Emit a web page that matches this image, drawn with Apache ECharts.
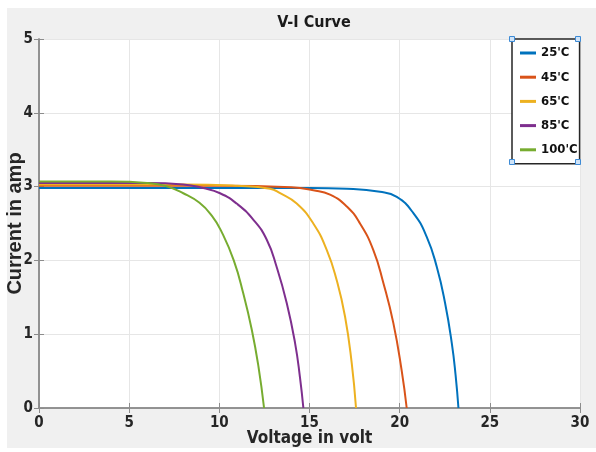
<!DOCTYPE html>
<html>
<head>
<meta charset="utf-8">
<script src="https://cdn.jsdelivr.net/npm/echarts@6/dist/echarts.min.js"></script>
<style>
  body { margin: 0; background: #fff; }
  #bg { position: absolute; left: 7px; top: 8px; width: 589px; height: 440px; background: #f0f0f0; }
  #main { position: absolute; left: 0; top: 0; width: 596px; height: 452px; }
</style>
</head>
<body>
<div id="bg"></div>
<div id="main"></div>
<script>
// V-I curves: volt on x, amp on y
const names = ["25'C", "45'C", "65'C", "85'C", "100'C"]
const colors = ['#0072BD', '#D95319', '#EDB120', '#7E2F8E', '#77AC30']

const volt25 = [0, 15, 17.07, 18.91, 19.84, 20.76, 21.5, 22.06, 22.52, 22.89, 23.1, 23.26]
const amp25 = [2.98, 2.98, 2.97, 2.93, 2.86, 2.64, 2.32, 1.91, 1.42, 0.88, 0.45, 0]

const volt45 = [0, 10, 14, 15.21, 16.14, 17.07, 17.8, 18.54, 19.1, 19.65, 20.11, 20.39]
const amp45 = [3.01, 3.01, 2.99, 2.95, 2.89, 2.73, 2.5, 2.14, 1.69, 1.15, 0.51, 0]

const volt65 = [0, 8, 11, 12.81, 13.37, 14.29, 15.21, 15.96, 16.51, 16.97, 17.34, 17.58]
const amp65 = [3.03, 3.03, 3.01, 2.97, 2.91, 2.77, 2.5, 2.14, 1.73, 1.24, 0.61, 0]

const volt85 = [0, 6, 8, 9.11, 10.04, 10.96, 11.89, 12.63, 13.18, 13.74, 14.2, 14.47, 14.66]
const amp85 = [3.05, 3.05, 3.03, 2.98, 2.91, 2.77, 2.55, 2.28, 1.91, 1.42, 0.88, 0.42, 0]

const volt100 = [0, 4, 6, 7, 8, 8.9, 9.6, 10.1, 10.8, 11.33, 11.8, 12.17, 12.48]
const amp100 = [3.07, 3.07, 3.05, 3.01, 2.91, 2.78, 2.6, 2.4, 2.0, 1.55, 1.06, 0.56, 0]

const volts = [volt25, volt45, volt65, volt85, volt100]
const amps = [amp25, amp45, amp65, amp85, amp100]

const narrow = '"Liberation Sans Narrow", "DejaVu Sans Condensed", sans-serif'

const chart = echarts.init(document.getElementById('main'))

const series = names.map((n, i) => ({
  name: n,
  type: 'line',
  data: volts[i].map((v, k) => [v, amps[i][k]]),
  smooth: true,
  symbol: 'none',
  lineStyle: { color: colors[i], width: 2 },
  itemStyle: { color: colors[i] },
  animation: false
}))

const handle = (x, y) => ({
  type: 'rect',
  shape: { x: x - 2.5, y: y - 2.5, width: 5, height: 5 },
  style: { fill: '#cfe3f7', stroke: '#3d8bd6', lineWidth: 1 },
  z: 100
})

chart.setOption({
  backgroundColor: 'transparent',
  title: {
    text: 'V-I Curve',
    left: 309,
    top: 10,
    textAlign: 'center',
    textStyle: { fontFamily: narrow, fontWeight: 'bold', fontSize: 16, color: '#1a1a1a' }
  },
  grid: {
    left: 39, right: 16, top: 39, bottom: 44,
    outerBoundsMode: 'none',
    containLabel: false,
    show: true, backgroundColor: '#fff', borderWidth: 0
  },
  legend: {
    orient: 'vertical',
    left: 512,
    top: 39,
    padding: [6, 2, 6, 8],
    itemGap: 8.2,
    itemWidth: 16,
    itemHeight: 3,
    icon: 'rect',
    backgroundColor: '#fff',
    borderColor: '#262626',
    borderWidth: 1.5,
    borderRadius: 0,
    textStyle: { fontFamily: narrow, fontWeight: 'bold', fontSize: 13, lineHeight: 16, color: '#111' },
    data: names
  },
  xAxis: [{
    type: 'value',
    min: 0, max: 30, interval: 5,
    name: 'Voltage in volt',
    nameLocation: 'middle',
    nameGap: 22,
    nameMoveOverlap: false,
    nameTextStyle: { fontFamily: narrow, fontWeight: 'bold', fontSize: 17, color: '#262626' },
    axisLine: { show: true, lineStyle: { color: '#8c8c8c', width: 1.5 } },
    axisTick: { show: true, inside: true, length: 5, lineStyle: { color: '#8c8c8c' } },
    axisLabel: { margin: 8, fontFamily: narrow, fontWeight: 'bold', fontSize: 15, color: '#262626' },
    splitLine: { show: true, lineStyle: { color: '#e6e6e6', width: 1 } }
  }, {
    type: 'value',
    position: 'top',
    min: 0, max: 30, interval: 5,
    axisLine: { show: true, lineStyle: { color: '#8c8c8c', width: 1.5 } },
    axisTick: { show: true, inside: true, length: 5, lineStyle: { color: '#8c8c8c' } },
    axisLabel: { show: false },
    splitLine: { show: false }
  }],
  yAxis: [{
    type: 'value',
    min: 0, max: 5, interval: 1,
    name: 'Current in amp',
    nameLocation: 'middle',
    nameGap: 14,
    nameMoveOverlap: false,
    nameTextStyle: { fontFamily: 'Liberation Sans, Arial, sans-serif', fontWeight: 'bold', fontSize: 20, color: '#262626' },
    axisLine: { show: true, lineStyle: { color: '#8c8c8c', width: 1.5 } },
    axisTick: { show: true, inside: true, length: 5, lineStyle: { color: '#8c8c8c' } },
    axisLabel: { margin: 6, fontFamily: narrow, fontWeight: 'bold', fontSize: 15, color: '#262626' },
    splitLine: { show: true, lineStyle: { color: '#e6e6e6', width: 1 } }
  }, {
    type: 'value',
    position: 'right',
    min: 0, max: 5, interval: 1,
    axisLine: { show: true, lineStyle: { color: '#8c8c8c', width: 1.5 } },
    axisTick: { show: true, inside: true, length: 5, lineStyle: { color: '#8c8c8c' } },
    axisLabel: { show: false },
    splitLine: { show: false }
  }],
  graphic: [handle(512, 39), handle(578, 39), handle(512, 162), handle(578, 162)],
  series: series
})
</script>
</body>
</html>
